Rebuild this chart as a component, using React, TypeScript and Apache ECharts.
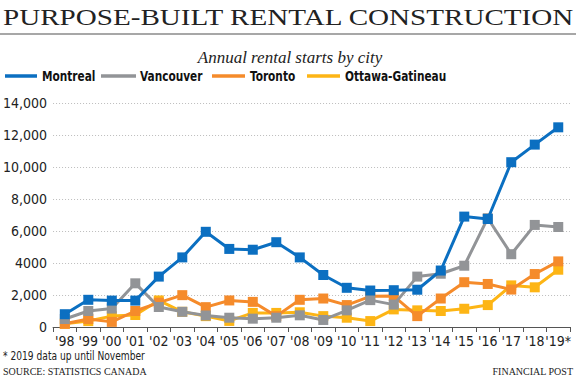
import React, { useEffect, useRef } from "react";
import * as echarts from "echarts";

const years = ["'98", "'99", "'00", "'01", "'02", "'03", "'04", "'05", "'06", "'07", "'08", "'09", "'10", "'11", "'12", "'13", "'14", "'15", "'16", "'17", "'18", "'19*"];
const montreal = [800, 1700, 1650, 1650, 3150, 4350, 5950, 4880, 4830, 5300, 4350, 3250, 2450, 2280, 2300, 2330, 3530, 6900, 6750, 10300, 11400, 12480];
const vancouver = [500, 1000, 1150, 2730, 1250, 950, 720, 580, 520, 580, 730, 440, 1040, 1680, 1400, 3150, 3330, 3830, 6800, 4550, 6380, 6250];
const toronto = [200, 500, 320, 1000, 1520, 1990, 1240, 1660, 1570, 680, 1700, 1780, 1370, 1920, 1930, 680, 1780, 2800, 2690, 2340, 3310, 4100];
const ottawa = [200, 370, 680, 750, 1660, 950, 680, 380, 880, 880, 920, 680, 580, 370, 1100, 1040, 1000, 1140, 1370, 2600, 2480, 3580];
const yTickLabels: Record<number, string> = { 0: "0", 2000: "2,000", 4000: "4000", 6000: "6,000", 8000: "8,000", 10000: "10,000", 12000: "12,000", 14000: "14,000" };
const cities = ["Montreal", "Vancouver", "Toronto", "Ottawa-Gatineau"];

const BLUE = "#0b6fc1";
const GREY = "#929497";
const ORANGE = "#f58b2b";
const YELLOW = "#fdb515";
const NARROW = "'Liberation Sans Narrow', 'DejaVu Sans Condensed', sans-serif";
const SERIF = "'Liberation Serif', 'DejaVu Serif', serif";

export default function App() {
  const ref = useRef<HTMLDivElement>(null);
  useEffect(() => {
    if (!ref.current) return;
    const chart = echarts.init(ref.current, null, { renderer: "svg" });
    const mk = (name: string, data: number[], color: string, z: number) => ({
      name,
      type: "line",
      data,
      z,
      symbol: "rect",
      symbolSize: 10,
      itemStyle: { color },
      lineStyle: { color, width: 3 },
    });
    const colors = [BLUE, GREY, ORANGE, YELLOW];
    const lineX = [[5, 37], [101, 136], [212, 245], [307, 340]];
    const textX = [42, 140, 250, 345];
    const legendEls: any[] = [];
    cities.forEach((c, i) => {
      legendEls.push({
        type: "line",
        shape: { x1: lineX[i][0], y1: 76, x2: lineX[i][1], y2: 76 },
        style: { stroke: colors[i], lineWidth: 3.5 },
      });
      legendEls.push({
        type: "text",
        x: textX[i],
        y: 76,
        scaleX: 0.84,
        style: { text: c, font: `bold 14px ${NARROW}`, fill: "#111", verticalAlign: "middle" },
      });
    });
    chart.setOption({
      animation: false,
      backgroundColor: "#fff",
      graphic: [
        {
          type: "text",
          x: 3,
          y: 17,
          scaleX: 1.213,
          style: { text: "PURPOSE-BUILT RENTAL CONSTRUCTION", font: `400 24px ${SERIF}`, fill: "#222", verticalAlign: "middle" },
        },
        { type: "line", shape: { x1: 0, y1: 34, x2: 576, y2: 34 }, style: { stroke: "#8a8a8a", lineWidth: 1.5 } },
        {
          type: "text",
          x: 290,
          y: 57,
          style: { text: "Annual rental starts by city", font: `italic 17px ${SERIF}`, fill: "#222", align: "center", verticalAlign: "middle" },
        },
        ...legendEls,
        {
          type: "text",
          x: 3,
          y: 356,
          scaleX: 0.78,
          style: { text: "* 2019 data up until November", font: `13px ${NARROW}`, fill: "#222", verticalAlign: "middle" },
        },
        {
          type: "text",
          x: 3,
          y: 371,
          style: { text: "SOURCE: STATISTICS CANADA", font: `10px ${SERIF}`, fill: "#222", verticalAlign: "middle" },
        },
        {
          type: "text",
          x: 573,
          y: 371,
          style: { text: "FINANCIAL POST", font: `10px ${SERIF}`, fill: "#222", align: "right", verticalAlign: "middle" },
        },
      ],
      grid: { left: 46, right: 6, top: 103, bottom: 53, containLabel: false },
      xAxis: {
        type: "category",
        data: years,
        boundaryGap: true,
        axisLine: { lineStyle: { color: "#555", width: 1 } },
        axisTick: { show: true, length: 5, lineStyle: { color: "#555" } },
        axisLabel: { fontFamily: NARROW, fontSize: 14, color: "#222", margin: 7, interval: 0 },
      },
      yAxis: {
        type: "value",
        min: 0,
        max: 14000,
        interval: 2000,
        axisLine: { show: false },
        axisTick: { show: false },
        splitLine: { lineStyle: { color: "#bdbdbd", type: [1, 2], width: 1 } },
        axisLabel: {
          fontFamily: NARROW,
          fontSize: 14,
          color: "#222",
          margin: 6,
          formatter: (v: number) => yTickLabels[v] ?? String(v),
        },
      },
      series: [
        mk("Ottawa-Gatineau", ottawa, YELLOW, 2),
        mk("Toronto", toronto, ORANGE, 3),
        mk("Vancouver", vancouver, GREY, 4),
        mk("Montreal", montreal, BLUE, 5),
      ],
    });
    return () => chart.dispose();
  }, []);
  return <div ref={ref} style={{ width: 576, height: 380, position: "absolute", left: 0, top: 0 }} />;
}
